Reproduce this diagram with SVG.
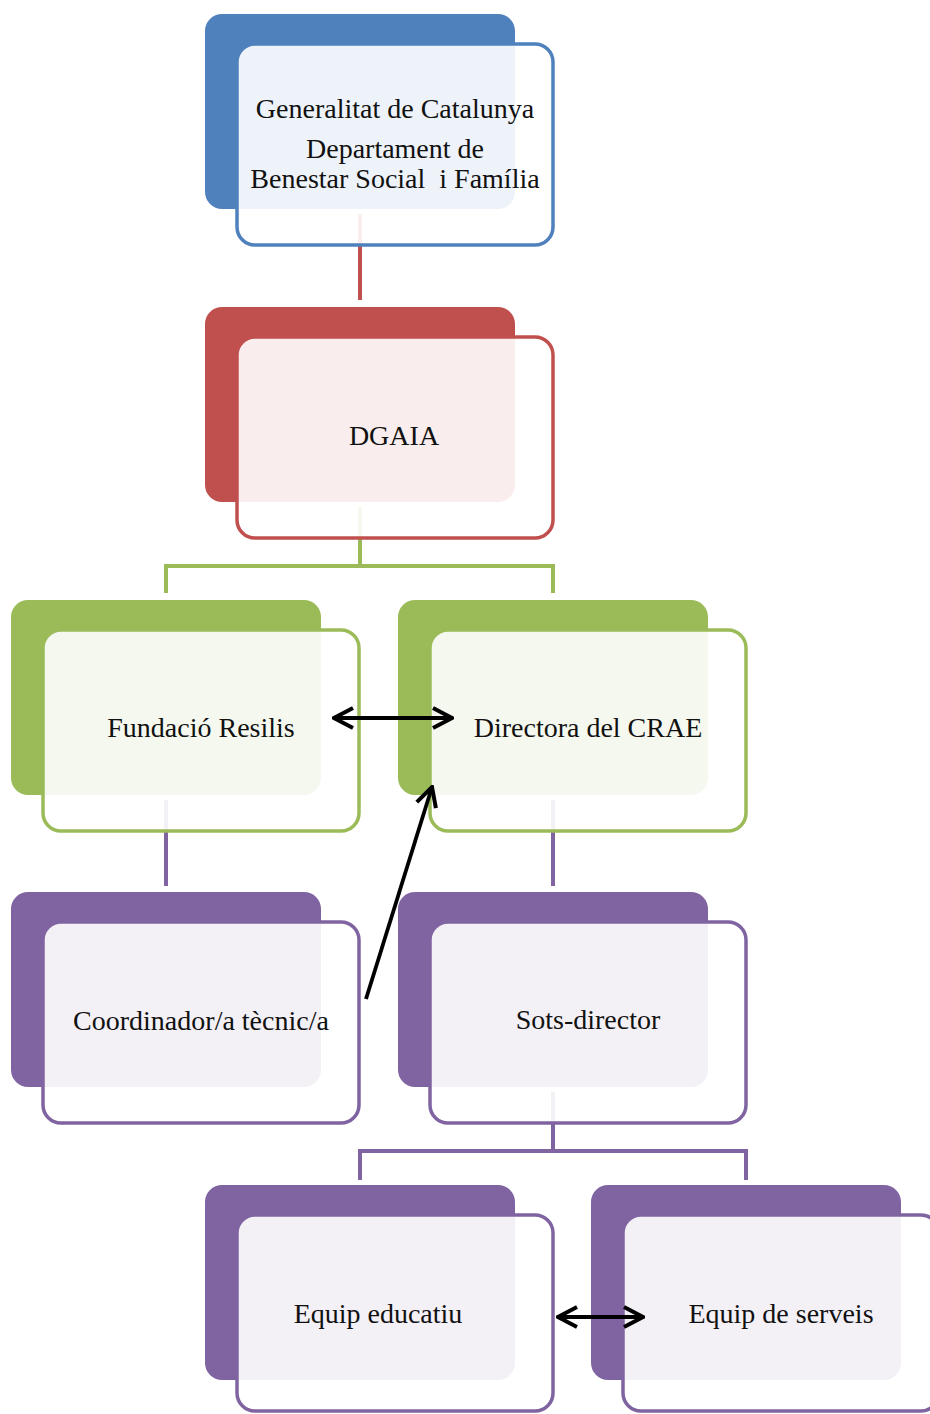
<svg xmlns="http://www.w3.org/2000/svg" width="930" height="1414" viewBox="0 0 930 1414">
<defs>
<style>
.back{stroke:none}
.front{fill:#ffffff;fill-opacity:0.9;stroke-width:3.5}
.blue .back{fill:#4F81BD}.blue .front{stroke:#4F81BD}
.red .back{fill:#C0504D}.red .front{stroke:#C0504D}
.green .back{fill:#9BBB59}.green .front{stroke:#9BBB59}
.purple .back{fill:#8064A2}.purple .front{stroke:#8064A2}
.lbl{font-family:"Liberation Serif","Times New Roman",serif;font-size:28px;fill:#111;text-anchor:middle}
.tree{fill:none;stroke-width:4}
.arr{fill:none;stroke:#000;stroke-width:3.8}
</style>
<marker id="ah" viewBox="0 0 24 24" refX="22" refY="12" markerWidth="24" markerHeight="24" markerUnits="userSpaceOnUse" orient="auto-start-reverse">
<path d="M3,2 L22,12 L3,22" fill="none" stroke="#000" stroke-width="4"/>
</marker>
</defs>
<rect width="930" height="1414" fill="#ffffff"/>
<g id="connectors">
<path class="tree" stroke="#C0504D" d="M360,214 V300"/>
<path class="tree" stroke="#9BBB59" d="M360,507 V566 M166,593 V566 H553 V593"/>
<path class="tree" stroke="#8064A2" d="M166,800 V886 M553,800 V886"/>
<path class="tree" stroke="#8064A2" d="M553,1092 V1151 M360,1180 V1151 H746 V1180"/>
</g>
<g id="n1" class="blue">
<rect class="back" x="205" y="14" width="310" height="195" rx="17"/>
<rect class="front" x="237" y="44" width="316" height="201" rx="18"/>
<text class="lbl" x="395" y="118">Generalitat de Catalunya</text>
<text class="lbl" x="395" y="158">Departament de</text>
<text class="lbl" x="395" y="188" xml:space="preserve">Benestar Social  i Família</text>
</g>
<g id="n2" class="red">
<rect class="back" x="205" y="307" width="310" height="195" rx="17"/>
<rect class="front" x="237" y="337" width="316" height="201" rx="18"/>
<text class="lbl" x="394" y="445">DGAIA</text>
</g>
<g id="n3" class="green">
<rect class="back" x="11" y="600" width="310" height="195" rx="17"/>
<rect class="front" x="43" y="630" width="316" height="201" rx="18"/>
<text class="lbl" x="201" y="737">Fundació Resilis</text>
</g>
<g id="n4" class="green">
<rect class="back" x="398" y="600" width="310" height="195" rx="17"/>
<rect class="front" x="430" y="630" width="316" height="201" rx="18"/>
<text class="lbl" x="588" y="737">Directora del CRAE</text>
</g>
<g id="n5" class="purple">
<rect class="back" x="11" y="892" width="310" height="195" rx="17"/>
<rect class="front" x="43" y="922" width="316" height="201" rx="18"/>
<text class="lbl" x="201" y="1030">Coordinador/a tècnic/a</text>
</g>
<g id="n6" class="purple">
<rect class="back" x="398" y="892" width="310" height="195" rx="17"/>
<rect class="front" x="430" y="922" width="316" height="201" rx="18"/>
<text class="lbl" x="588" y="1029">Sots-director</text>
</g>
<g id="n7" class="purple">
<rect class="back" x="205" y="1185" width="310" height="195" rx="17"/>
<rect class="front" x="237" y="1215" width="316" height="196" rx="18"/>
<text class="lbl" x="378" y="1323">Equip educatiu</text>
</g>
<g id="n8" class="purple">
<rect class="back" x="591" y="1185" width="310" height="195" rx="17"/>
<rect class="front" x="623" y="1215" width="316" height="196" rx="18"/>
<text class="lbl" x="781" y="1323">Equip de serveis</text>
</g>
<g id="arrows">
<line class="arr" x1="334" y1="718" x2="452" y2="718" marker-start="url(#ah)" marker-end="url(#ah)"/>
<line class="arr" x1="366" y1="999" x2="432" y2="787" marker-end="url(#ah)"/>
<line class="arr" x1="558" y1="1317" x2="643" y2="1317" marker-start="url(#ah)" marker-end="url(#ah)"/>
</g>
</svg>
